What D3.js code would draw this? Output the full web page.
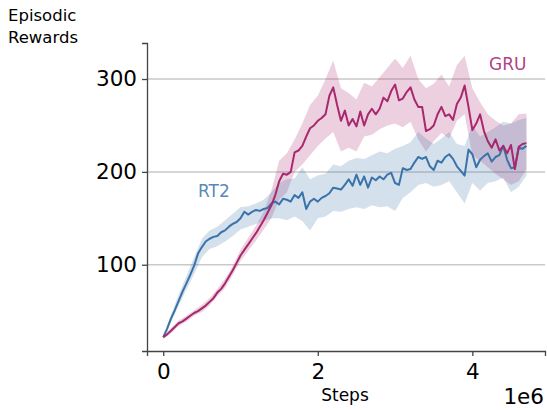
<!DOCTYPE html>
<html>
<head>
<meta charset="utf-8">
<script src="https://cdn.jsdelivr.net/npm/d3@7"></script>
<style>
  html, body { margin: 0; padding: 0; background: #fff; }
  svg { display: block; font-family: "DejaVu Sans", sans-serif; }
</style>
</head>
<body>
<svg id="chart" width="547" height="410"></svg>
<script>
// ---- data (steps in units of 1e6) ----
const steps = [
  0.00,0.05,0.10,0.15,0.20,0.25,0.30,0.35,0.40,0.45,
  0.50,0.55,0.60,0.65,0.70,0.75,0.80,0.85,0.90,0.95,
  1.00,1.05,1.10,1.15,1.20,1.25,1.30,1.35,1.40,1.45,
  1.50,1.55,1.60,1.65,1.70,1.75,1.80,1.85,1.90,1.95,
  2.00,2.05,2.10,2.15,2.20,2.25,2.30,2.35,2.40,2.45,
  2.50,2.55,2.60,2.65,2.70,2.75,2.80,2.85,2.90,2.95,
  3.00,3.05,3.10,3.15,3.20,3.25,3.30,3.35,3.40,3.45,
  3.50,3.55,3.60,3.65,3.70,3.75,3.80,3.85,3.90,3.95,
  4.00,4.05,4.10,4.15,4.20,4.25,4.30,4.35,4.40,4.45,
  4.50,4.55,4.60,4.65,4.70
];
const gruMean = [
  22,25,29,33,37,39,42,45,48,50,
  53,56,60,64,70,74,80,87,94,102,
  110,116,122,128,134,141,148,156,164,175,
  190,198,197,200,221,223,228,238,247,250,
  255,258,262,282,291,272,255,266,250,257,
  249,265,250,262,268,262,268,280,276,287,
  294,277,279,286,291,278,270,270,244,246,
  250,262,270,260,262,256,273,280,293,270,
  245,252,262,244,233,226,235,223,228,220,
  229,203,227,230,231
];
const rt2Mean = [
  22,31,42,51,61,71,80,89,99,112,
  119,125,128,130,131,135,137,141,144,146,
  150,157,154,157,159,158,160,161,166,168,
  165,171,170,168,175,172,178,160,168,171,
  168,172,174,177,183,182,181,186,192,185,
  197,186,195,183,194,191,195,192,197,199,
  188,186,204,202,203,210,216,214,216,206,
  202,212,210,216,219,214,206,201,196,224,
  219,205,213,217,220,211,216,218,228,213,
  204,205,226,225,228
];
const bandSteps = [
  0.0,0.1,0.2,0.3,0.4,0.5,0.6,0.7,0.8,0.9,
  1.0,1.1,1.2,1.3,1.4,1.5,1.6,1.7,1.8,1.9,
  2.0,2.1,2.2,2.3,2.4,2.5,2.6,2.7,2.8,2.9,
  3.0,3.1,3.2,3.3,3.4,3.5,3.6,3.7,3.8,3.9,
  4.0,4.1,4.2,4.3,4.4,4.5,4.6,4.7
];
const gruUpper = [
  24,32,40,45,51,57,64,74,85,99,
  116,129,142,157,180,212,220,235,252,272,
  282,300,320,290,285,278,296,292,302,312,
  322,312,325,300,290,295,305,292,315,325,
  290,275,262,255,250,252,262,263
];
const gruLower = [
  20,26,34,39,45,49,56,66,75,89,
  104,115,126,138,150,170,178,200,208,218,
  228,236,243,222,226,222,238,240,246,250,
  252,248,254,235,222,233,242,236,255,262,
  218,212,205,198,192,186,190,203
];
const rt2Upper = [
  24,46,68,88,108,128,137,141,148,155,
  162,163,166,170,178,188,192,193,205,192,
  196,198,208,206,212,215,214,218,222,220,
  225,228,232,243,236,230,236,243,230,228,
  250,238,243,248,254,252,256,258
];
const rt2Lower = [
  20,38,56,73,90,108,117,120,125,131,
  138,141,144,147,150,150,148,152,147,137,
  150,152,158,157,160,162,160,164,162,163,
  158,172,178,186,188,184,186,190,178,166,
  188,180,188,190,194,178,184,196
];
const yTicks = [100, 200, 300];
const xTicks = [0, 2, 4];
const seriesNames = ["GRU", "RT2"];

// ---- drawing ----
const svg = d3.select("#chart");
const x = d3.scaleLinear().domain([-0.21, 4.94]).range([147, 545]);
const y = d3.scaleLinear().domain([7.1, 338.8]).range([351, 43]);

const gruColor = "#a8286e";
const rt2Color = "#3a72aa";

// grid
svg.append("g").selectAll("line").data(yTicks).join("line")
  .attr("x1", x.range()[0]).attr("x2", x.range()[1])
  .attr("y1", d => y(d)).attr("y2", d => y(d))
  .attr("stroke", "#c9c9c9").attr("stroke-width", 1.5);

function bandData(up, lo) { return bandSteps.map((s, i) => ({s, u: up[i], l: lo[i]})); }
const area = d3.area().x(d => x(d.s)).y0(d => y(d.l)).y1(d => y(d.u));
const line = d3.line().x((d) => x(d.s)).y(d => y(d.v));

svg.append("path").datum(bandData(gruUpper, gruLower)).attr("d", area)
  .attr("fill", gruColor).attr("fill-opacity", 0.22);
svg.append("path").datum(bandData(rt2Upper, rt2Lower)).attr("d", area)
  .attr("fill", rt2Color).attr("fill-opacity", 0.22);

svg.append("path").datum(steps.map((s, i) => ({s, v: rt2Mean[i]}))).attr("d", line)
  .attr("fill", "none").attr("stroke", rt2Color).attr("stroke-width", 2).attr("stroke-linejoin", "round");
svg.append("path").datum(steps.map((s, i) => ({s, v: gruMean[i]}))).attr("d", line)
  .attr("fill", "none").attr("stroke", gruColor).attr("stroke-width", 2).attr("stroke-linejoin", "round");

// axes
const yAxis = svg.append("g").attr("transform", `translate(${x.range()[0]},0)`)
  .call(d3.axisLeft(y).tickValues(yTicks).tickSize(5).tickPadding(5).tickFormat(d3.format("d")));
const xAxis = svg.append("g").attr("transform", `translate(0,${y.range()[0]})`)
  .call(d3.axisBottom(x).tickValues(xTicks).tickSize(5).tickPadding(6).tickFormat(d3.format("d")));
[yAxis, xAxis].forEach(g => {
  g.select(".domain").attr("stroke", "#444").attr("stroke-width", 1.3);
  g.selectAll(".tick line").attr("stroke", "#444").attr("stroke-width", 1.3);
  g.selectAll(".tick text").attr("fill", "#000").style("font-size", "21.5px")
    .style("font-family", "'DejaVu Sans', sans-serif");
});
xAxis.selectAll(".tick text").attr("dy", "0.78em");

// titles
svg.append("text").attr("x", 8).attr("y", 21).text("Episodic")
  .style("font-size", "16.5px").attr("fill", "#000");
svg.append("text").attr("x", 8).attr("y", 42.5).text("Rewards")
  .style("font-size", "16.5px").attr("fill", "#000");
svg.append("text").attr("x", 345).attr("y", 401).attr("text-anchor", "middle").text("Steps")
  .style("font-size", "17px").attr("fill", "#000");
svg.append("text").attr("x", 544).attr("y", 404).attr("text-anchor", "end").text("1e6")
  .style("font-size", "21.5px").attr("fill", "#000");

// series labels
svg.append("text").attr("x", 489).attr("y", 70).text(seriesNames[0])
  .style("font-size", "17px").attr("fill", gruColor).attr("fill-opacity", 0.9);
svg.append("text").attr("x", 198).attr("y", 197).text(seriesNames[1])
  .style("font-size", "17px").attr("fill", rt2Color).attr("fill-opacity", 0.85);
</script>
</body>
</html>
